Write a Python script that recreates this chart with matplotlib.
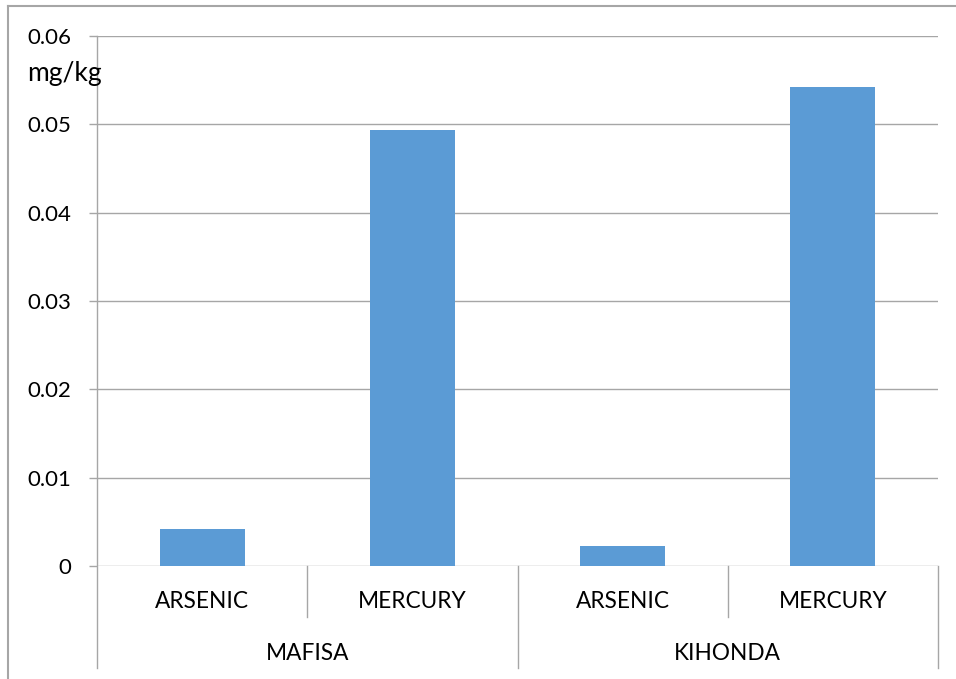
import matplotlib
matplotlib.use('Agg')
import matplotlib.pyplot as plt
from matplotlib.lines import Line2D

sites = ['MAFISA', 'KIHONDA']
metals = ['ARSENIC', 'MERCURY']
values = [0.00415, 0.0494, 0.00226, 0.0542]
yticks = [0, 0.01, 0.02, 0.03, 0.04, 0.05, 0.06]
ytick_labels = ['0', '0.01', '0.02', '0.03', '0.04', '0.05', '0.06']
unit = 'mg/kg'

plt.rcParams['font.family'] = ['Lato', 'DejaVu Sans']
line_col = '#a6a6a6'

fig = plt.figure(figsize=(9.56, 6.79), dpi=100)
ax = fig.add_axes([97 / 956, 113 / 679, 841 / 956, 530 / 679])

xs = list(range(len(values)))
ax.bar(xs, values, width=0.405, color='#5b9bd5', zorder=3)
ax.set_xlim(-0.5, len(values) - 0.5)
ax.set_ylim(0, 0.06)
ax.set_yticks(yticks)
ax.set_yticklabels(ytick_labels, fontsize=16)
ax.tick_params(axis='y', length=5.8, color=line_col, width=1, pad=13)
ax.set_xticks([])
ax.yaxis.grid(True, color=line_col, lw=1)
ax.set_axisbelow(True)
for s in ax.spines.values():
    s.set_visible(False)

tr = ax.get_xaxis_transform()
inner_h = 51 / 530
outer_h = 102 / 530

# left axis line running down through the category area
ax.add_line(Line2D([-0.5, -0.5], [-outer_h, 1], transform=tr,
                   color=line_col, lw=1, clip_on=False))

n = len(metals)
for i, x in enumerate(xs):
    ax.text(x, -35 / 530, metals[i % n], transform=tr, ha='center',
            va='center', fontsize=16.3)
    edge = x + 0.5
    h = outer_h if (i + 1) % n == 0 else inner_h
    ax.add_line(Line2D([edge, edge], [-h, 0], transform=tr,
                       color=line_col, lw=1, clip_on=False))
for j, site in enumerate(sites):
    ax.text(j * n + (n - 1) / 2, -88 / 530, site, transform=tr,
            ha='center', va='center', fontsize=16.3)

fig.text(27 / 956, 1 - 73 / 679, unit, fontsize=19, va='center', ha='left')

# chart-area border
fig.add_artist(Line2D([8 / 956, 8 / 956], [0, 1 - 6 / 679], color=line_col, lw=1.5))
fig.add_artist(Line2D([8 / 956, 1], [1 - 6 / 679, 1 - 6 / 679], color=line_col, lw=1.5))

fig.savefig('out.png', dpi=100)
